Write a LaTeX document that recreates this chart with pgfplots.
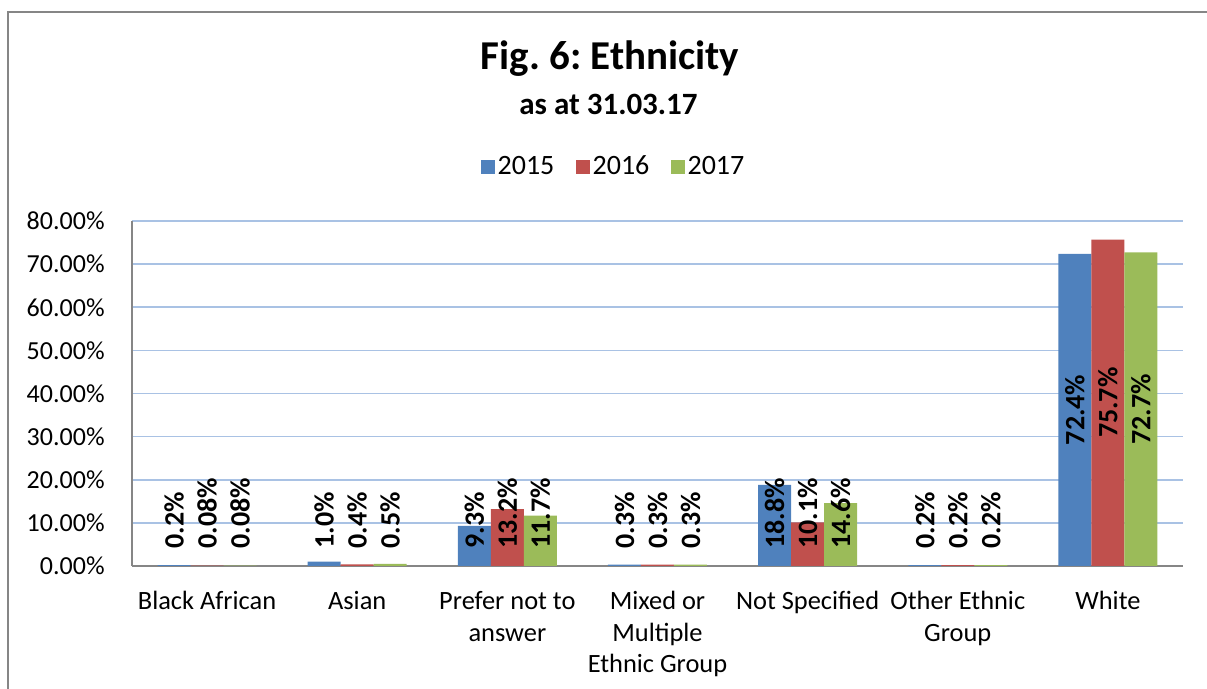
\documentclass[border=0pt]{standalone}
\usepackage{pgfplots}
\pgfplotsset{compat=1.18}
\usepackage{fontspec}
\setmainfont{Carlito}
\frenchspacing
\definecolor{cb}{HTML}{4F81BD}
\definecolor{cr}{HTML}{C0504D}
\definecolor{cg}{HTML}{9BBB59}
\definecolor{gridblue}{HTML}{A9C2E4}
\definecolor{axgray}{HTML}{868686}
\newcommand{\lbl}{\bfseries\fontsize{14}{14}\selectfont}
\begin{document}
\begin{tikzpicture}
\useasboundingbox (0,0) rectangle (603.5pt,344.5pt);
\draw[axgray, line width=1pt] (4.15pt,-2pt) -- (4.15pt,338.35pt) -- (606pt,338.35pt);
\node[font=\bfseries\fontsize{20.5}{20.5}\selectfont, anchor=base] at (305pt,309.85pt) {Fig. 6: Ethnicity};
\node[font=\bfseries\fontsize{15.5}{15.5}\selectfont, anchor=base] at (304.25pt,287pt) {as at 31.03.17};
\begin{axis}[
  at={(66pt,61.5pt)}, anchor=south west,
  scale only axis, width=525.5pt, height=172.5pt,
  xmin=-0.5, xmax=6.5, ymin=0, ymax=80,
  xtick={0,...,6},
  xticklabels={Black African, Asian, {Prefer not to\\answer}, {Mixed or\\Multiple\\Ethnic Group}, Not Specified, {Other Ethnic\\Group}, White},
  ytick={0,10,...,80},
  yticklabel={\pgfmathprintnumber[fixed,fixed zerofill,precision=2]{\tick}\%},
  /pgf/number format/assume math mode=true,
  ymajorgrids, grid style={gridblue, line width=0.8pt},
  axis x line*=bottom, axis y line*=left,
  axis line style={axgray, line width=1pt},
  major tick length=0pt,
  yticklabel style={font=\fontsize{13}{13}\selectfont, inner sep=0pt, anchor=east, xshift=-13.5pt},
  xticklabel style={font=\fontsize{13.2}{15.8}\selectfont, align=center, anchor=north, inner sep=0pt, yshift=-12.5pt},
  legend style={at={(0.459,1.1565)}, anchor=center, draw=none, legend columns=3,
    font=\fontsize{14}{14}\selectfont, nodes={inner xsep=1.5pt, inner ysep=1pt},
    /tikz/every even column/.append style={column sep=9.5pt}},
  legend image code/.code={\fill[#1] (0pt,-3.3pt) rectangle (6.6pt,3.3pt);},
]
\addplot[ybar, bar width=16.5pt, bar shift=-16.5pt, fill=cb, draw=none] coordinates {(0,0.2) (1,1.0) (2,9.3) (3,0.3) (4,18.8) (5,0.2) (6,72.4)};
\addplot[ybar, bar width=16.5pt, bar shift=0pt, fill=cr, draw=none] coordinates {(0,0.08) (1,0.4) (2,13.2) (3,0.3) (4,10.1) (5,0.2) (6,75.7)};
\addplot[ybar, bar width=16.5pt, bar shift=16.5pt, fill=cg, draw=none] coordinates {(0,0.08) (1,0.5) (2,11.7) (3,0.3) (4,14.6) (5,0.2) (6,72.7)};
\legend{2015,2016,2017}
% labels anchored at base
\addplot[forget plot, draw=none, mark=none, point meta=explicit symbolic,
  nodes near coords={\pgfplotspointmeta\%},
  every node near coord/.append style={rotate=90, anchor=west, inner sep=0pt, font=\lbl, text=black}]
  table[meta=l] {
x y l
-0.2198 3.94 0.2
0 3.94 0.08
0.2198 3.94 0.08
0.7802 3.94 1.0
1 3.94 0.4
1.2198 3.94 0.5
1.7802 3.94 9.3
2 3.94 13.2
2.2198 3.94 11.7
2.7802 3.94 0.3
3 3.94 0.3
3.2198 3.94 0.3
3.7802 3.94 18.8
4 3.94 10.1
4.2198 3.94 14.6
4.7802 3.94 0.2
5 3.94 0.2
5.2198 3.94 0.2
};
% labels centred in bars
\addplot[forget plot, draw=none, mark=none, point meta=explicit symbolic,
  nodes near coords={\pgfplotspointmeta\%},
  every node near coord/.append style={rotate=90, anchor=center, inner sep=0pt, font=\lbl, text=black}]
  table[meta=l] {
x y l
5.7802 36.2 72.4
6 37.85 75.7
6.2198 36.35 72.7
};
\end{axis}
\end{tikzpicture}
\end{document}
